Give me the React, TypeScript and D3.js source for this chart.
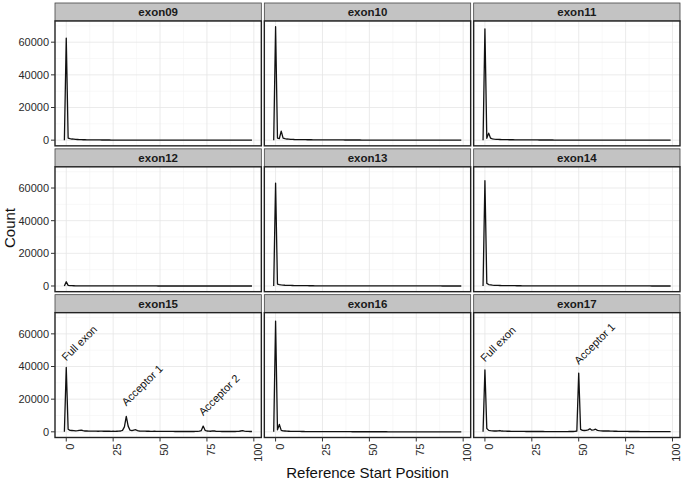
import * as React from 'react';
import * as d3 from 'd3';

// facet names, in the order they are laid out (3 per row)
const exons = ['exon09', 'exon10', 'exon11', 'exon12', 'exon13', 'exon14', 'exon15', 'exon16', 'exon17'];

// reference start positions, -1 .. 99
const positions = d3.range(-1, 100);

const exon09 = [
  0, 62500, 1300, 900, 700, 600, 450, 400, 350, 300,
  250, 250, 200, 200, 180, 160, 150, 140, 130, 120,
  110, 100, 100, 90, 90, 80, 80, 80, 70, 70,
  70, 60, 60, 60, 60, 50, 50, 50, 50, 50,
  40, 40, 40, 40, 40, 40, 40, 30, 30, 30,
  30, 30, 30, 30, 30, 30, 30, 30, 30, 30,
  20, 20, 20, 20, 20, 20, 20, 20, 20, 20,
  20, 20, 20, 20, 20, 20, 20, 20, 20, 20,
  20, 20, 20, 20, 20, 20, 20, 20, 20, 20,
  10, 10, 10, 10, 10, 10, 10, 10, 10, 10,
  10,
];
const exon10 = [
  0, 69500, 1300, 1000, 5500, 1200, 900, 700, 600, 500,
  450, 400, 380, 350, 330, 300, 300, 280, 260, 250,
  240, 230, 220, 210, 200, 200, 190, 180, 170, 160,
  150, 150, 140, 140, 130, 130, 120, 120, 110, 110,
  100, 100, 100, 90, 90, 90, 90, 80, 80, 80,
  80, 80, 70, 70, 70, 70, 70, 60, 60, 60,
  60, 60, 60, 50, 50, 50, 50, 50, 50, 50,
  50, 40, 40, 40, 40, 40, 40, 40, 40, 40,
  40, 40, 30, 30, 30, 30, 30, 30, 30, 30,
  30, 30, 30, 30, 30, 20, 20, 20, 20, 20,
  20,
];
const exon11 = [
  0, 68200, 1100, 4300, 1200, 800, 600, 500, 450, 400,
  350, 330, 300, 280, 260, 250, 240, 220, 200, 190,
  180, 170, 160, 150, 150, 140, 130, 130, 120, 120,
  110, 110, 100, 100, 100, 90, 90, 90, 80, 80,
  80, 80, 70, 70, 70, 70, 60, 60, 60, 60,
  60, 50, 50, 50, 50, 50, 50, 50, 40, 40,
  40, 40, 40, 40, 40, 40, 30, 30, 30, 30,
  30, 30, 30, 30, 30, 30, 30, 30, 20, 20,
  20, 20, 20, 20, 20, 20, 20, 20, 20, 20,
  20, 20, 10, 10, 10, 10, 10, 10, 10, 10,
  10,
];
const exon12 = [
  0, 2600, 400, 250, 200, 150, 120, 100, 100, 90,
  80, 80, 70, 70, 60, 60, 60, 50, 50, 50,
  50, 40, 40, 40, 40, 40, 30, 30, 30, 30,
  30, 30, 30, 20, 20, 20, 20, 20, 20, 20,
  20, 20, 20, 20, 20, 20, 20, 20, 20, 20,
  10, 10, 10, 10, 10, 10, 10, 10, 10, 10,
  10, 10, 10, 10, 10, 10, 10, 10, 10, 10,
  10, 10, 10, 10, 10, 10, 10, 10, 10, 10,
  10, 10, 10, 10, 10, 10, 10, 10, 10, 10,
  10, 10, 10, 10, 10, 10, 10, 10, 10, 10,
  10,
];
const exon13 = [
  0, 63000, 1200, 900, 700, 550, 450, 400, 350, 320,
  300, 280, 260, 240, 220, 200, 190, 180, 170, 160,
  150, 140, 130, 130, 120, 120, 110, 110, 100, 100,
  100, 90, 90, 90, 80, 80, 80, 70, 70, 70,
  70, 60, 60, 60, 60, 60, 50, 50, 50, 50,
  50, 50, 40, 40, 40, 40, 40, 40, 40, 40,
  30, 30, 30, 30, 30, 30, 30, 30, 30, 30,
  30, 20, 20, 20, 20, 20, 20, 20, 20, 20,
  20, 20, 20, 20, 20, 20, 20, 20, 20, 20,
  10, 10, 10, 10, 10, 10, 10, 10, 10, 10,
  10,
];
const exon14 = [
  0, 64500, 1600, 900, 700, 500, 420, 380, 340, 300,
  280, 260, 240, 220, 200, 190, 180, 170, 160, 150,
  140, 130, 130, 120, 120, 110, 110, 100, 100, 100,
  90, 90, 90, 80, 80, 80, 70, 70, 70, 70,
  60, 60, 60, 60, 60, 50, 50, 50, 50, 50,
  50, 40, 40, 40, 40, 40, 40, 40, 40, 30,
  30, 30, 30, 30, 30, 30, 30, 30, 30, 30,
  20, 20, 20, 20, 20, 20, 20, 20, 20, 20,
  20, 20, 20, 20, 20, 20, 20, 20, 20, 20,
  10, 10, 10, 10, 10, 10, 10, 10, 10, 10,
  10,
];
const exon15 = [
  0, 39400, 1600, 900, 800, 700, 600, 700, 900, 1100,
  700, 500, 500, 450, 400, 400, 450, 400, 350, 400,
  400, 350, 350, 400, 350, 300, 350, 300, 350, 400,
  500, 900, 3000, 9500, 3500, 1000, 800, 1100, 1300, 700,
  500, 450, 400, 400, 350, 350, 300, 300, 350, 300,
  300, 300, 250, 300, 250, 250, 300, 250, 250, 200,
  250, 200, 250, 200, 200, 250, 200, 200, 200, 200,
  250, 300, 400, 800, 3500, 900, 500, 400, 350, 600,
  500, 300, 250, 250, 200, 200, 250, 200, 200, 200,
  200, 200, 250, 300, 500, 700, 400, 300, 250, 200,
  200,
];
const exon16 = [
  0, 67800, 1200, 4500, 900, 600, 500, 400, 350, 320,
  300, 280, 260, 240, 220, 200, 190, 180, 170, 160,
  150, 140, 140, 130, 130, 120, 120, 110, 110, 100,
  100, 100, 90, 90, 90, 80, 80, 80, 70, 70,
  70, 70, 60, 60, 60, 60, 60, 50, 50, 50,
  50, 50, 50, 40, 40, 40, 40, 40, 40, 40,
  40, 30, 30, 30, 30, 30, 30, 30, 30, 30,
  30, 30, 20, 20, 20, 20, 20, 20, 20, 20,
  20, 20, 20, 20, 20, 20, 20, 20, 20, 20,
  20, 10, 10, 10, 10, 10, 10, 10, 10, 10,
  10,
];
const exon17 = [
  0, 38000, 2000, 900, 700, 600, 500, 500, 600, 800,
  500, 400, 400, 350, 350, 300, 300, 300, 300, 250,
  250, 250, 250, 200, 200, 200, 200, 200, 200, 200,
  200, 200, 200, 180, 180, 180, 180, 180, 150, 150,
  150, 150, 150, 150, 150, 150, 200, 200, 200, 300,
  500, 36000, 1500, 900, 800, 900, 1200, 1900, 1000, 1200,
  1600, 900, 700, 600, 500, 500, 600, 500, 400, 400,
  350, 350, 300, 300, 300, 250, 250, 250, 200, 200,
  200, 200, 200, 200, 180, 180, 180, 150, 150, 150,
  150, 150, 150, 120, 120, 120, 100, 100, 100, 100,
  100,
];

const counts: Record<string, number[]> = {
  exon09, exon10, exon11, exon12, exon13, exon14, exon15, exon16, exon17,
};

const xTicks = [0, 25, 50, 75, 100];
const xMinor = [12.5, 37.5, 62.5, 87.5];
const yTicks = [0, 20000, 40000, 60000];
const yMinor = [10000, 30000, 50000, 70000];

const annExon = ['exon15', 'exon15', 'exon15', 'exon17', 'exon17'];
const annLabel = ['Full exon', 'Acceptor 1', 'Acceptor 2', 'Full exon', 'Acceptor 1'];
const annPos = [0, 32, 73, 0, 50];
const annCount = [43000, 15500, 9500, 42500, 41000];

const FONT = '"Liberation Sans", Arial, Helvetica, sans-serif';

export default function App() {
  const W = 683;
  const H = 482;
  const left = 55;
  const right = 680;
  const top = 3;
  const bottom = 437.5;
  const gap = 3;
  const stripH = 18;
  const panelW = (right - left - 2 * gap) / 3;
  const rowH = (bottom - top - 2 * gap) / 3;
  const plotH = rowH - stripH;

  const xmin = d3.min(positions) as number;
  const xmax = d3.max(positions) as number;
  const xpad = (xmax - xmin) * 0.05;
  const ymax = d3.max(exons, e => d3.max(counts[e])) as number;
  const ypad = ymax * 0.05;

  const x = d3.scaleLinear().domain([xmin - xpad, xmax + xpad]).range([0, panelW]);
  const y = d3.scaleLinear().domain([-ypad, ymax + ypad]).range([plotH, 0]);

  const line = d3.line<number>()
    .x((_, i) => x(positions[i]))
    .y(d => y(d));

  return (
    <svg width={W} height={H} style={{ position: 'absolute', left: 0, top: 0, background: '#fff' }}
      fontFamily={FONT}>
      {exons.map((ex, i) => {
        const col = i % 3;
        const row = Math.floor(i / 3);
        const px = left + col * (panelW + gap);
        const py = top + row * (rowH + gap);
        const oy = py + stripH;
        return (
          <g key={ex}>
            <rect x={px} y={py} width={panelW} height={stripH} fill="#c3c3c3" stroke="#444" strokeWidth={0.8} />
            <text x={px + panelW / 2} y={py + stripH / 2} dy="0.36em" textAnchor="middle"
              fontSize={11.5} fontWeight="bold" fill="#1a1a1a">{ex}</text>
            <g transform={`translate(${px},${oy})`}>
              <rect width={panelW} height={plotH} fill="#fff" />
              {xMinor.map(t => (
                <line key={'xm' + t} x1={x(t)} x2={x(t)} y1={0} y2={plotH} stroke="#f3f3f3" strokeWidth={0.6} />
              ))}
              {yMinor.filter(t => y(t) > 0).map(t => (
                <line key={'ym' + t} x1={0} x2={panelW} y1={y(t)} y2={y(t)} stroke="#f3f3f3" strokeWidth={0.6} />
              ))}
              {xTicks.map(t => (
                <line key={'xM' + t} x1={x(t)} x2={x(t)} y1={0} y2={plotH} stroke="#e6e6e6" strokeWidth={0.8} />
              ))}
              {yTicks.map(t => (
                <line key={'yM' + t} x1={0} x2={panelW} y1={y(t)} y2={y(t)} stroke="#e6e6e6" strokeWidth={0.8} />
              ))}
              <path d={line(counts[ex]) || ''} fill="none" stroke="#111" strokeWidth={1.3} strokeLinejoin="round" />
              {annExon.map((a, k) => a === ex ? (
                <text key={'a' + k} transform={`translate(${x(annPos[k])},${y(annCount[k])}) rotate(-45)`}
                  fontSize={11} fill="#111">{annLabel[k]}</text>
              ) : null)}
              <rect width={panelW} height={plotH} fill="none" stroke="#222" strokeWidth={1.4} />
              {col === 0 && yTicks.map(t => (
                <g key={'yt' + t}>
                  <line x1={-4} x2={0} y1={y(t)} y2={y(t)} stroke="#333" strokeWidth={1} />
                  <text x={-6} y={y(t)} dy="0.36em" textAnchor="end" fontSize={11} fill="#2a2a2a">{t}</text>
                </g>
              ))}
              {row === 2 && xTicks.map(t => (
                <g key={'xt' + t}>
                  <line x1={x(t)} x2={x(t)} y1={plotH} y2={plotH + 4} stroke="#333" strokeWidth={1} />
                  <text transform={`translate(${x(t) + 4},${plotH + 6}) rotate(-90)`} dy="0.36em"
                    textAnchor="end" fontSize={11} fill="#2a2a2a">{t}</text>
                </g>
              ))}
            </g>
          </g>
        );
      })}
      <text x={(left + right) / 2} y={478} textAnchor="middle" fontSize={15} fill="#111">Reference Start Position</text>
      <text transform={`translate(15,228) rotate(-90)`} textAnchor="middle" fontSize={15} fill="#111">Count</text>
    </svg>
  );
}
